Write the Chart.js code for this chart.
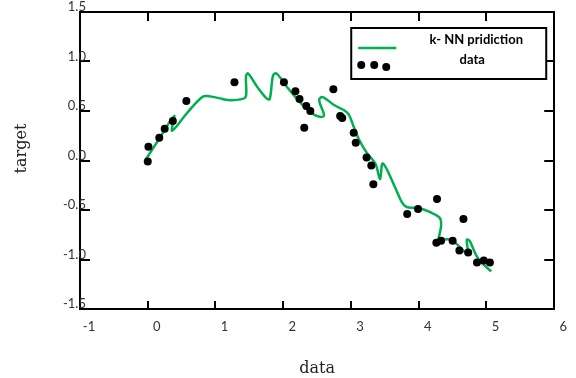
<!DOCTYPE html>
<html>
<head>
<meta charset="utf-8">
<script src="https://cdn.jsdelivr.net/npm/chart.js@4/dist/chart.umd.min.js"></script>
<style>
  html, body { margin: 0; padding: 0; background: #ffffff; }
  canvas { display: block; }
</style>
</head>
<body>
<canvas id="c" width="576" height="378"></canvas>
<script>
// ---- data ----
const dataX = [0.00, 0.01, 0.17, 0.25, 0.37, 0.57, 1.28, 2.01, 2.18, 2.24, 2.34, 2.40, 2.31, 2.74,
               2.84, 2.87, 3.04, 3.07, 3.23, 3.30, 3.33, 3.83, 3.99, 4.27, 4.26, 4.33, 4.50, 4.60,
               4.66, 4.73, 4.86, 4.96, 5.05];
const dataY = [-0.01, 0.14, 0.23, 0.32, 0.40, 0.60, 0.79, 0.79, 0.70, 0.62, 0.55, 0.50, 0.33, 0.72,
               0.45, 0.43, 0.28, 0.18, 0.03, -0.05, -0.24, -0.54, -0.49, -0.39, -0.83, -0.81, -0.81, -0.91,
               -0.59, -0.93, -1.03, -1.01, -1.03];

const predX = [-0.02, 0.17, 0.39, 0.36, 0.58, 0.80, 0.90, 1.05, 1.19, 1.39, 1.45, 1.45, 1.48, 1.61,
               1.75, 1.80, 1.85, 1.90, 2.07, 2.26, 2.46, 2.60, 2.53, 2.58, 2.75, 2.95, 3.04, 3.12,
               3.24, 3.36, 3.43, 3.47, 3.65, 3.75, 3.82, 3.99, 4.16, 4.31, 4.33, 4.29, 4.33, 4.48,
               4.60, 4.72, 4.71, 4.75, 4.85, 4.94, 5.07];
const predY = [0.02, 0.22, 0.45, 0.30, 0.48, 0.64, 0.65, 0.63, 0.61, 0.62, 0.65, 0.85, 0.88, 0.75,
               0.63, 0.62, 0.86, 0.88, 0.73, 0.58, 0.46, 0.45, 0.61, 0.64, 0.56, 0.48, 0.34, 0.21,
               0.07, -0.03, -0.19, -0.03, -0.27, -0.42, -0.47, -0.48, -0.52, -0.58, -0.66, -0.81, -0.80, -0.80,
               -0.87, -0.94, -0.80, -0.81, -0.96, -1.04, -1.12];

const xTickValues = [-1, 0, 1, 2, 3, 4, 5, 6];
const yTickValues = [-1.5, -1.0, -0.5, 0.0, 0.5, 1.0, 1.5];

const seriesLabels = ['k- NN pridiction', 'data'];
const axisTitles = { x: 'data', y: 'target' };

// ---- build ----
const toPts = (xs, ys) => xs.map((x, i) => ({ x: x, y: ys[i] }));
const setTicks = vals => scale => { scale.ticks = vals.map(v => ({ value: v })); };

const GREEN = '#00b050';
const tickFont = { family: 'Lato, "Open Sans", sans-serif', size: 13 };

const boxLegend = {
  id: 'boxLegend',
  afterDraw(chart) {
    const ctx = chart.ctx;
    const a = chart.chartArea;
    const L = a.right - 203, T = a.top + 16, W = 195, H = 51;
    ctx.save();
    ctx.fillStyle = '#ffffff';
    ctx.fillRect(L, T, W, H);
    ctx.strokeStyle = '#000000';
    ctx.lineWidth = 2;
    ctx.strokeRect(L, T, W, H);
    // line sample
    ctx.strokeStyle = GREEN;
    ctx.lineWidth = 2.5;
    ctx.beginPath();
    ctx.moveTo(L + 7, T + 20);
    ctx.lineTo(L + 45, T + 20);
    ctx.stroke();
    // dot sample
    ctx.fillStyle = '#000000';
    [[10, 37], [23, 37], [35, 39]].forEach(p => {
      ctx.beginPath();
      ctx.arc(L + p[0], T + p[1], 4, 0, Math.PI * 2);
      ctx.fill();
    });
    ctx.font = 'bold 13px Lato, "Open Sans", sans-serif';
    ctx.textAlign = 'center';
    ctx.textBaseline = 'middle';
    ctx.fillText(chart.data.datasets[0].label, L + 125, T + 12, 105);
    ctx.fillText(chart.data.datasets[1].label, L + 121, T + 32);
    // y-axis title
    ctx.save();
    ctx.translate(22, (a.top + a.bottom) / 2 - 12);
    ctx.rotate(-Math.PI / 2);
    ctx.font = '16px "DejaVu Serif", serif';
    ctx.fillStyle = '#222222';
    ctx.fillText(axisTitles.y, 0, 0);
    ctx.restore();
    ctx.restore();
  }
};

const tickGrid = (len) => ({
  drawOnChartArea: false,
  drawTicks: true,
  tickLength: len,
  color: '#000000',
  lineWidth: 2
});
const border = { display: true, color: '#000000', width: 2 };

new Chart(document.getElementById('c'), {
  type: 'scatter',
  data: {
    datasets: [
      {
        label: seriesLabels[0],
        data: toPts(predX, predY),
        showLine: true,
        borderColor: GREEN,
        backgroundColor: GREEN,
        borderWidth: 2.5,
        pointRadius: 0,
        tension: 0.35,
        fill: false,
        order: 2
      },
      {
        label: seriesLabels[1],
        data: toPts(dataX, dataY),
        showLine: false,
        pointRadius: 4,
        pointBorderWidth: 0,
        pointBackgroundColor: '#000000',
        pointBorderColor: '#000000',
        order: 1
      }
    ]
  },
  options: {
    responsive: false,
    animation: false,
    layout: { padding: 0 },
    plugins: { legend: { display: false }, tooltip: { enabled: false } },
    scales: {
      x: {
        type: 'linear', position: 'bottom', min: -1, max: 6,
        afterBuildTicks: setTicks(xTickValues),
        afterFit: s => { s.height = 69; },
        grid: tickGrid(-8),
        border: border,
        ticks: {
          font: tickFont, color: '#333333', padding: 18, labelOffset: 9,
          autoSkip: false, maxRotation: 0,
          callback: v => String(v)
        },
        title: {
          display: true, text: axisTitles.x, color: '#222222',
          font: { family: '"DejaVu Serif", serif', size: 16 },
          padding: { top: 0, bottom: 0 }
        }
      },
      xTop: {
        type: 'linear', position: 'top', min: -1, max: 6,
        afterBuildTicks: setTicks(xTickValues),
        afterFit: s => { s.height = 12; },
        grid: tickGrid(-9),
        border: border,
        ticks: { display: false }
      },
      y: {
        type: 'linear', position: 'left', min: -1.5, max: 1.5,
        afterBuildTicks: setTicks(yTickValues),
        afterFit: s => { s.width = 80; },
        grid: tickGrid(-10),
        border: border,
        ticks: {
          font: tickFont, color: '#333333', padding: -17, labelOffset: -5,
          mirror: true, crossAlign: 'far', z: 1,
          autoSkip: false,
          callback: v => Number(v).toFixed(1)
        },
        title: { display: false }
      },
      yRight: {
        type: 'linear', position: 'right', min: -1.5, max: 1.5,
        afterBuildTicks: setTicks(yTickValues),
        afterFit: s => { s.width = 17; },
        grid: tickGrid(-10),
        border: border,
        ticks: { display: false }
      }
    }
  },
  plugins: [boxLegend]
});
</script>
</body>
</html>
